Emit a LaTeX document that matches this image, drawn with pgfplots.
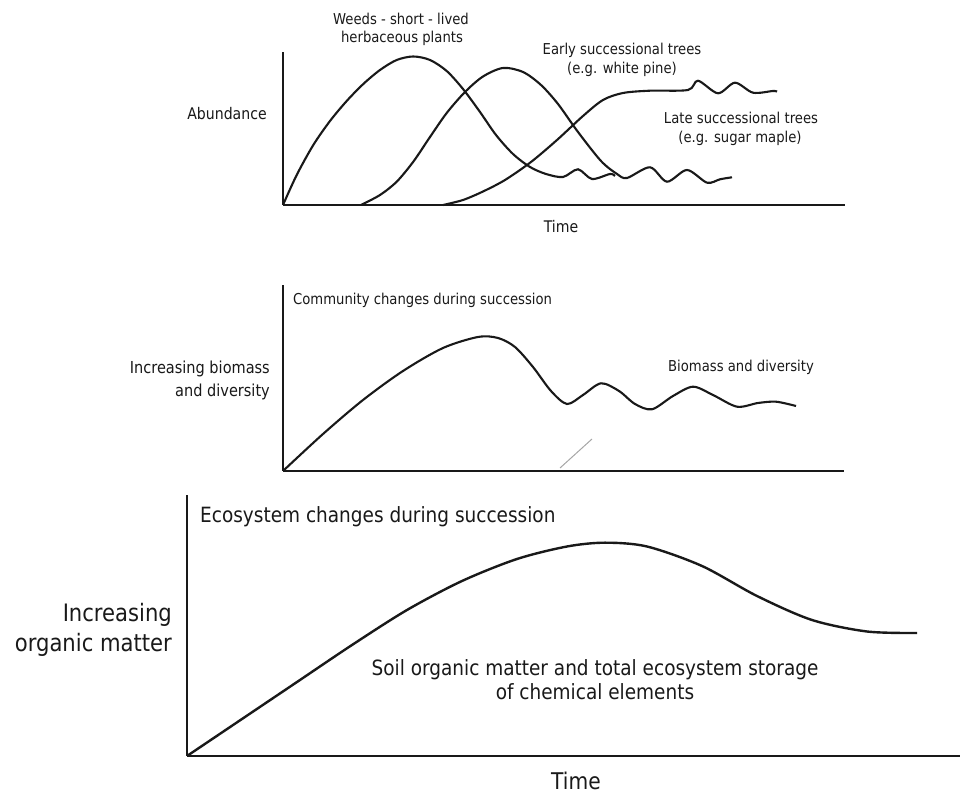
\documentclass[border=0pt]{standalone}
\usepackage{fontspec}
\setmainfont{DejaVu Sans}[FakeStretch=0.88]
\usepackage{pgfplots}
\pgfplotsset{compat=1.18}

\definecolor{ink}{gray}{0.1}
\newcommand{\fs}[1]{\fontsize{#1}{#1}\selectfont}

% one sketch axis: 1 axis unit = 1pt, no ticks, plain L-shaped axis lines
\pgfplotsset{sketch/.style={
    scale only axis, anchor=south west, clip=false,
    axis lines=left, axis line style={-, line width=2pt, ink},
    xtick=\empty, ytick=\empty, xmin=0, ymin=0},
  curve/.style={smooth, line width=2.1pt, ink, no marks}}

\begin{document}
\begin{tikzpicture}[x=1pt,y=1pt]
\useasboundingbox (0,0) rectangle (967,795);

% ---- top panel: species abundance
\begin{axis}[sketch, at={(283pt,590pt)}, width=562pt, height=153pt, xmax=562, ymax=153]
  % weeds
  \addplot[curve] coordinates {
    (0,0) (13.7,30) (30.3,60) (47,84) (63.7,104) (80.3,121) (97,135) (113.7,145)
    (130.3,148.5) (147,145) (163.7,134) (180,116) (197,93) (213,70) (230,51)
    (247,38) (263,31) (280,28) (295,35.7) (309,26) (327,31) (332,29)};
  % early successional trees
  \addplot[curve] coordinates {
    (78,0) (97,10) (113.7,23.3) (130.3,43.3) (147,68) (163.7,92) (182,113)
    (200,128.5) (220,137) (240,133) (258,120) (275,101) (295,73) (318,44)
    (334,31) (344,27) (367,37.7) (384,23.3) (404,35) (424,22.3) (437,25.7)
    (449,27.7)};
  % late successional trees
  \addplot[curve] coordinates {
    (160,0) (180,5) (200,13.5) (222,25) (248,43) (274,65) (300,89) (320,105)
    (340,112) (367,114.3) (405,115) (415,124.3) (435,111.7) (452,122.3)
    (470,112.3) (490,114) (494,113.3)};
\end{axis}

% ---- middle panel: community
\begin{axis}[sketch, at={(283pt,324pt)}, width=561pt, height=186pt, xmax=561, ymax=186]
  \addplot[curve] coordinates {
    (0,0) (40,37) (80,71) (120,100) (160,123) (195,134) (215,133) (232,124)
    (250,104) (268,80) (284,67) (300,76) (318,87.7) (336,80) (352,67)
    (369,61.7) (390,75) (410,84.3) (430,76) (454,64.3) (475,68) (493,69.3)
    (513,65)};
  \addplot[gray!70, line width=1pt, no marks] coordinates {(277,3) (309,32)};
\end{axis}

% ---- bottom panel: ecosystem
\begin{axis}[sketch, at={(187pt,39pt)}, width=773pt, height=261pt, xmax=773, ymax=261]
  \addplot[curve, line width=2.4pt] coordinates {
    (0,0) (55,37) (110,74) (165,111) (220,146) (275,175) (330,197) (380,209.5)
    (418,213.3) (460,209.5) (515,190) (570,160) (625,136) (680,124.5) (730,123)};
\end{axis}

% ---- texts
\begin{scope}[every node/.style={inner sep=0pt, text=ink}]
  \node[anchor=base] at (401,770.5) {\fs{15}Weeds - short - lived};
  \node[anchor=base] at (402,752.5) {\fs{15}herbaceous plants};
  \node[anchor=base] at (622,740.5) {\fs{15}Early successional trees};
  \node[anchor=base] at (622,721.5) {\fs{15}(e.g. white pine)};
  \node[anchor=base] at (741,671.5) {\fs{15}Late successional trees};
  \node[anchor=base] at (740,652.5) {\fs{15}(e.g. sugar maple)};
  \node[anchor=base] at (227,675.5) {\fs{16}Abundance};
  \node[anchor=base] at (561,562.5) {\fs{16}Time};

  \node[anchor=base west] at (293,490) {\fs{15}Community changes during succession};
  \node[anchor=base east] at (270,421) {\fs{16.5}Increasing biomass};
  \node[anchor=base east] at (270,398) {\fs{16.5}and diversity};
  \node[anchor=base] at (741,423) {\fs{15}Biomass and diversity};

  \node[anchor=base west] at (200,272) {\fs{21}Ecosystem changes during succession};
  \node[anchor=base east] at (172,173) {\fs{24}Increasing};
  \node[anchor=base east] at (172,143) {\fs{24}organic matter};
  \node[anchor=base] at (595,119) {\fs{21}Soil organic matter and total ecosystem storage};
  \node[anchor=base] at (595,95) {\fs{21}of chemical elements};
  \node[anchor=base] at (576,5) {\fs{23}Time};
\end{scope}
\end{tikzpicture}
\end{document}
